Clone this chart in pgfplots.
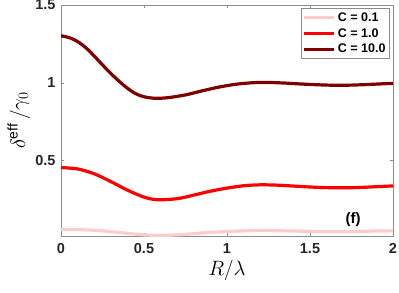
\documentclass[border=0pt]{standalone}
\usepackage{fontspec}
\setmainfont{Liberation Sans}
\usepackage{pgfplots}
\pgfplotsset{compat=1.18}
\definecolor{cpink}{rgb}{1,0.8,0.8}
\definecolor{cred}{rgb}{1,0,0}
\definecolor{cdark}{rgb}{0.5,0,0}
\definecolor{axgray}{rgb}{0.55,0.55,0.55}
\begin{document}
\begin{tikzpicture}
\useasboundingbox (0pt,0pt) rectangle (399pt,292pt);
\begin{axis}[
  at={(61pt,56pt)}, anchor=south west,
  scale only axis, width=332pt, height=231pt,
  xmin=0, xmax=2, ymin=0.015, ymax=1.5,
  xtick={0,0.5,1,1.5,2}, ytick={0.5,1,1.5},
  xticklabels={0,0.5,1,1.5,2}, yticklabels={0.5,1,1.5},
  tick align=inside, major tick length=3pt,
  axis line style={axgray}, tick style={axgray},
  every tick label/.append style={font=\fontsize{14.5}{14.5}\selectfont\bfseries, text=black!85},
  xticklabel style={yshift=-4pt},
  yticklabel style={xshift=-2pt},
  xlabel={$R/\lambda$}, ylabel={$\delta^{\mathrm{eff}}\,/\gamma_0$},
  label style={font=\fontsize{20}{20}\selectfont},
  xlabel style={at={(axis description cs:0.5,-0.15)}, anchor=center},
  ylabel style={at={(axis description cs:-0.127,0.5)}, anchor=center},
  legend style={at={(0.99,0.985)}, anchor=north east, draw=axgray, font=\fontsize{12.5}{13}\selectfont\bfseries, inner sep=2pt, row sep=1.5pt, cells={anchor=west}},
  legend image code/.code={\draw[#1, line width=3pt] (0pt,0pt) -- (30pt,0pt);},
]
\addplot[cpink, line width=3.2pt, smooth] coordinates {
(0,0.057) (0.1,0.056) (0.2,0.052) (0.3,0.043) (0.4,0.032) (0.5,0.022) (0.6,0.019) (0.7,0.022) (0.8,0.030) (0.9,0.038) (1.0,0.044) (1.1,0.048) (1.2,0.050) (1.3,0.049) (1.4,0.047) (1.5,0.045) (1.6,0.044) (1.7,0.044) (1.8,0.045) (1.9,0.047) (2.0,0.048)};
\addlegendentry{C = 0.1}
\addplot[cred, line width=3.2pt, smooth] coordinates {
(0,0.455) (0.1,0.446) (0.2,0.415) (0.3,0.365) (0.4,0.31) (0.5,0.265) (0.58,0.248) (0.7,0.255) (0.8,0.278) (0.9,0.303) (1.0,0.323) (1.1,0.338) (1.2,0.344) (1.3,0.342) (1.4,0.336) (1.5,0.330) (1.6,0.326) (1.7,0.325) (1.8,0.327) (1.9,0.332) (2.0,0.337)};
\addlegendentry{C = 1.0}
\addplot[cdark, line width=3.2pt, smooth] coordinates {
(0,1.302) (0.05,1.29) (0.1,1.265) (0.15,1.225) (0.2,1.172) (0.25,1.115) (0.3,1.06) (0.35,1.01) (0.4,0.965) (0.45,0.93) (0.5,0.91) (0.57,0.90) (0.65,0.905) (0.75,0.922) (0.85,0.948) (0.95,0.972) (1.05,0.99) (1.15,1.0) (1.25,1.002) (1.35,0.998) (1.45,0.992) (1.55,0.987) (1.65,0.984) (1.75,0.985) (1.85,0.989) (1.95,0.994) (2.0,0.996)};
\addlegendentry{C = 10.0}
\node[font=\fontsize{15}{15}\selectfont\bfseries] at (axis cs:1.76,0.12) {(f)};
\end{axis}
\end{tikzpicture}
\end{document}
